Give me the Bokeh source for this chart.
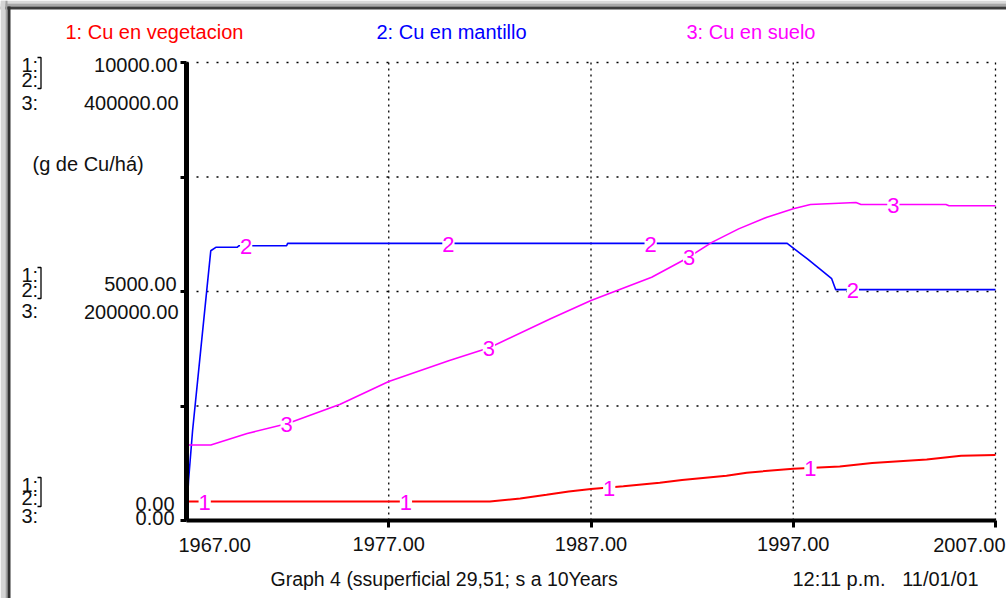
import numpy as np
from bokeh.plotting import figure
from bokeh.models import (Range1d, FixedTicker, PrintfTickFormatter, Label, LabelSet,
                          ColumnDataSource, PolyAnnotation, BoxAnnotation)
from bokeh.core.properties import value
from bokeh.embed import file_html
from bokeh.resources import INLINE

# ---------------- data ----------------
series_names = ["1: Cu en vegetacion", "2: Cu en mantillo", "3: Cu en suelo"]
series_colors = ["#ff0000", "#0000ff", "#ff00ff"]

years_veg = [1967, 1982, 1983.5, 1984.8, 1985.9, 1987, 1988.6, 1990.4, 1991.5,
             1993.7, 1994.7, 1997, 1999.3, 2000.9, 2003.6, 2005.3, 2007]
cu_veg = [415, 415, 480, 560, 635, 690, 750, 825, 885,
          975, 1045, 1130, 1180, 1255, 1330, 1415, 1430]

years_mant = [1967, 1967.1, 1967.3, 1967.7, 1968.0, 1968.2, 1968.45, 1969.5, 1969.6,
              1971.95, 1972.0, 1996.7, 1997.7, 1998.4, 1998.9, 1999.1, 2007]
cu_mant = [0, 870, 1960, 3710, 5020, 5890, 5965, 5965, 6000,
           6000, 6050, 6050, 5710, 5460, 5280, 5040, 5040]

years_suelo = [1967, 1968.2, 1970, 1972, 1974.6, 1977, 1980, 1982, 1985, 1987, 1990,
               1991.7, 1993, 1994.3, 1995.7, 1997, 1997.85, 2000.1, 2000.35, 2004.55,
               2004.7, 2007]
cu_suelo = [65900, 65900, 76000, 84700, 101500, 121400, 139700, 151100, 176200, 192100,
            212500, 228600, 243100, 254700, 264900, 272200, 276000, 277700, 276000,
            276000, 274900, 274900]

x_ticks = [1967, 1977, 1987, 1997, 2007]
y12_ticks = [0, 2500, 5000, 7500, 10000]
y12_labels = ["0.00", "5000.00", "10000.00"]
y3_labels = ["0.00", "200000.00", "400000.00"]
y3_max = 400000
y_unit = "(g de Cu/há)"
footer_left = "Graph 4 (ssuperficial 29,51; s a 10Years"
footer_time = "12:11 p.m."
footer_date = "11/01/01"

# ---------------- layout (canvas pixels) ----------------
W, H = 1006, 598
PX0, PXS = 186.0, 20.225        # canvas x of first year, px per year
PY0, PYS = 520.0, 0.0458        # canvas y of value 0, px per unit (series 1,2)
BASE_FIX = 7.5                  # text baseline correction

def px2x(px):
    return x_ticks[0] + (px - PX0) / PXS

def py2y(py):
    return (PY0 - py) / PYS

y3_factor = y3_max / y12_ticks[-1]
FONT = "Liberation Sans"
TXT = "#111111"

p = figure(width=W, height=H, output_backend="svg", toolbar_location=None,
           x_range=Range1d(px2x(0), px2x(W)), y_range=Range1d(py2y(H), py2y(0)),
           min_border=0, min_border_left=0, min_border_right=0,
           min_border_top=0, min_border_bottom=0)
p.extra_y_ranges = {"suelo": Range1d(py2y(H) * y3_factor, py2y(0) * y3_factor)}
p.outline_line_color = None
p.background_fill_color = "white"
p.border_fill_color = "white"
p.xgrid.visible = False
p.ygrid.visible = False

# window-frame bands (left and top)
def band(l, r, t, b, color):
    p.add_layout(BoxAnnotation(left=px2x(l), right=px2x(r), top=py2y(t), bottom=py2y(b),
                               fill_color=color, fill_alpha=1.0, line_color=None))
band(0, 1006, 0, 3, "#dadada")
band(0, 1006, 3, 6, "#a8a8a8")
band(0, 1006, 6, 9, "#3c3c3c")
band(0, 5, 0, 598, "#d4d4d4")
band(5, 7, 0, 598, "#a0a0a0")
band(7, 10, 6, 598, "#303030")

# grid (dotted)
p.segment(x0=x_ticks[1:], y0=[y12_ticks[0]] * 4, x1=x_ticks[1:], y1=[y12_ticks[-1]] * 4,
          line_color="#000000", line_width=1.3, line_dash="2 4")
p.segment(x0=[x_ticks[0]] * 4, y0=y12_ticks[1:], x1=[x_ticks[-1]] * 4, y1=y12_ticks[1:],
          line_color="#000000", line_width=1.5, line_dash="2 8")

# axes, pinned inside the canvas
ax = p.xaxis[0]
ax.fixed_location = y12_ticks[0]
ax.bounds = (x_ticks[0], x_ticks[-1])
ax.ticker = FixedTicker(ticks=x_ticks[1:])
ax.formatter = PrintfTickFormatter(format="%.2f")
ax.major_label_overrides = {x_ticks[-1]: ""}
ax.axis_line_width = 4
ax.axis_line_color = "black"
ax.major_tick_out = 7
ax.major_tick_in = 0
ax.major_tick_line_width = 3
ax.minor_tick_line_color = None
ax.major_label_text_font = FONT
ax.major_label_text_font_size = "20px"
ax.major_label_text_color = TXT
ax.major_label_standoff = 9

ay = p.yaxis[0]
ay.fixed_location = x_ticks[0]
ay.bounds = (y12_ticks[0], y12_ticks[-1])
ay.ticker = FixedTicker(ticks=y12_ticks)
ay.major_label_overrides = {t: "" for t in y12_ticks}
ay.axis_line_width = 5
ay.axis_line_color = "black"
ay.major_tick_out = 6
ay.major_tick_in = 0
ay.major_tick_line_width = 3
ay.minor_tick_line_color = None

# series lines
p.line(years_veg, cu_veg, line_color=series_colors[0], line_width=2)
p.line(years_mant, cu_mant, line_color=series_colors[1], line_width=1.6)
p.line(years_suelo, cu_suelo, line_color=series_colors[2], line_width=1.6,
       y_range_name="suelo")

# STELLA-style number markers on the curves
mark_x1 = [1967.9, 1977.85, 1987.9, 1997.85]
mark_x2 = [1969.95, 1979.95, 1989.95, 1999.95]
mark_x3 = [1971.95, 1981.95, 1991.85, 2001.95]
extra = {}
if "padding" in LabelSet.properties():
    extra["padding"] = 3
for num, mx, yrs, vals, rng in [("1", mark_x1, years_veg, cu_veg, "default"),
                                ("2", mark_x2, years_mant, cu_mant, "default"),
                                ("3", mark_x3, years_suelo, cu_suelo, "suelo")]:
    src = ColumnDataSource(dict(x=mx, y=list(np.interp(mx, yrs, vals)),
                                t=[num] * len(mx)))
    p.add_layout(LabelSet(x="x", y="y", text="t", source=src, y_range_name=rng,
                          text_align="center", text_baseline="middle",
                          text_font=value(FONT), text_font_size=value("22px"),
                          text_color=series_colors[2],
                          background_fill_color="white", y_offset=-1, **extra))

def add_text(px, py, txt, color=TXT, align="left", size="20px"):
    p.add_layout(Label(x=px2x(px), y=py2y(py - BASE_FIX), text=txt, text_font=FONT,
                       text_font_size=size, text_color=color, text_align=align,
                       text_baseline="alphabetic"))

# titles
add_text(65, 39, series_names[0], series_colors[0])
add_text(376, 39, series_names[1], series_colors[1])
add_text(686, 39, series_names[2], series_colors[2])

# left stacked scale labels
for (b1, b2, b3, v12y, v3y, lab12, lab3, r12, r3) in [
        (72, 87, 110, 72, 110, y12_labels[2], y3_labels[2], 177, 178),
        (282, 297, 318, 291, 319, y12_labels[1], y3_labels[1], 176, 178),
        (492, 505, 523, 511, 525, y12_labels[0], y3_labels[0], 174, 174)]:
    add_text(21, b1, "1:")
    add_text(21, b2, "2:")
    add_text(21, b3, "3:")
    add_text(r12, v12y, lab12, align="right")
    add_text(r3, v3y, lab3, align="right")
    top, bot = b1 - 15, b2 + 1
    xs = [px2x(v) for v in (37, 40.5, 40.5, 37, 40.5, 40.5)]
    ys = [py2y(v) for v in (top, top, bot, bot, bot, top)]
    p.add_layout(PolyAnnotation(xs=xs, ys=ys, fill_alpha=0, line_color="#000000",
                                line_alpha=1.0, line_width=1.3))

add_text(32, 171, y_unit)

# edge tick labels (kept inside the window, as in the original)
add_text(178, 552, "%.2f" % x_ticks[0])
add_text(1005, 552, "%.2f" % x_ticks[-1], align="right")

# footer
add_text(270, 586, footer_left, size="19.5px")
add_text(792, 586, footer_time)
add_text(978, 586, footer_date, align="right")

open("out.html", "w").write(file_html(p, INLINE))
